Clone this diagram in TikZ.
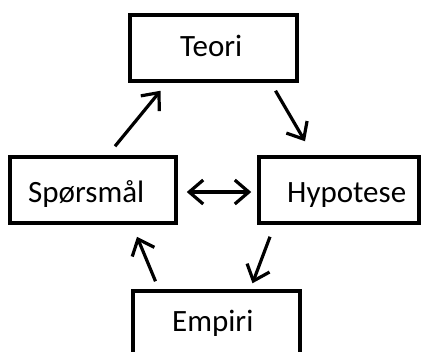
\documentclass[tikz,border=0pt]{standalone}
\usepackage{fontspec}
\setmainfont{Carlito}
\usetikzlibrary{arrows.meta,calc}
\begin{document}
\begin{tikzpicture}[x=1pt,y=-1pt,
  box/.style={draw=black,line width=3.5pt,minimum height=66pt,inner sep=0pt},
  lbl/.style={anchor=base west,inner sep=0pt,font=\fontsize{31}{36}\selectfont,text=black},
  tip/.style={Straight Barb[length=14pt,width=24pt]},
  arr/.style={line width=3.2pt,-{Straight Barb[length=14pt,width=24pt]}},
  darr/.style={line width=3.2pt,{Straight Barb[length=14pt,width=24pt]}-{Straight Barb[length=14pt,width=24pt]}}]
\fill[white] (0,0) rectangle (422,351);
\clip (0,0) rectangle (422,351);
\useasboundingbox (0,0) rectangle (422,351);
\node[box,minimum width=167pt] (teori) at (213.5,48) {};
\node[box,minimum width=166pt] (sp) at (93,190) {};
\node[box,minimum width=160pt] (hyp) at (339,190) {};
\node[box,minimum width=167pt] (emp) at (216.5,324) {};
\node[lbl] (teoriT) at (180,56) {Teori};
\node[lbl] (spT) at (28,202) {Spørsmål};
\node[lbl] (hypT) at (287,202) {Hypotese};
\node[lbl] (empT) at (172,331) {Empiri};
\draw[arr] ($(sp.north)+(22,-9)$) -- ($(teori.south)+(-53,8)$);
\draw[arr] ($(teori.south)+(62,8)$) -- ($(hyp.north)+(-34,-14)$);
\draw[darr] ($(sp.east)+(9,2)$) -- ($(hyp.west)+(-6,2)$);
\draw[arr] ($(hyp.south)+(-69,12)$) -- ($(emp.north)+(36,-6)$);
\draw[arr] ($(emp.north)+(-61,-8)$) -- ($(sp.south)+(44,12)$);
\end{tikzpicture}
\end{document}
